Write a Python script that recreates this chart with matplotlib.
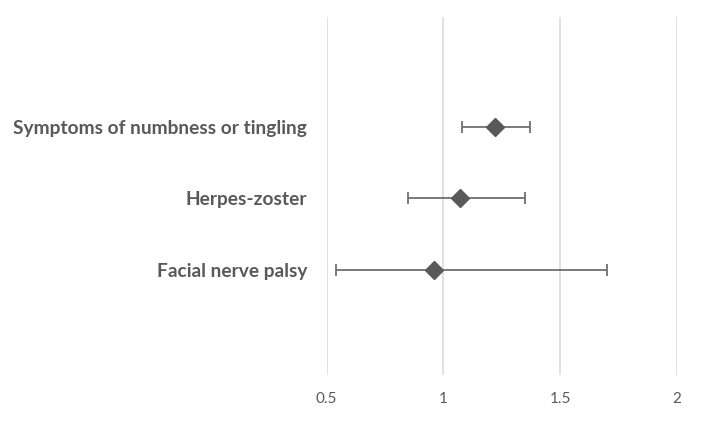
import matplotlib.pyplot as plt

# Data
labels = ["Symptoms of numbness or tingling", "Herpes-zoster", "Facial nerve palsy"]
estimate = [1.22, 1.07, 0.96]
lower = [1.08, 0.85, 0.54]
upper = [1.37, 1.35, 1.70]
ypos = [3, 2, 1]
xticks = [0.5, 1, 1.5, 2]
xticklabels = ["0.5", "1", "1.5", "2"]

grey = "#595959"

fig = plt.figure(figsize=(7.03, 4.21), dpi=100)
ax = fig.add_axes([0.4647, 0.1093, 0.4983, 0.8504])

err_lo = [e - l for e, l in zip(estimate, lower)]
err_hi = [u - e for e, u in zip(estimate, upper)]
ax.errorbar(estimate, ypos, xerr=[err_lo, err_hi], fmt="D", color=grey,
            ecolor="#707070", elinewidth=1.3, capsize=4, capthick=1.3,
            markersize=9, zorder=3)

ax.set_xlim(0.5, 2)
ax.set_ylim(-0.47, 4.54)
ax.set_xticks(xticks)
ax.set_xticklabels(xticklabels, fontfamily="Lato", fontsize=11, color=grey)
ax.set_yticks(ypos)
ax.set_yticklabels(labels, fontfamily="Lato", fontsize=13.8, fontweight="bold", color=grey)
ax.tick_params(axis="both", length=0)
ax.tick_params(axis="x", pad=12)
ax.tick_params(axis="y", pad=14)
ax.grid(axis="x", color="#d9d9d9", linewidth=1.1)
ax.set_axisbelow(True)
for s in ax.spines.values():
    s.set_visible(False)

plt.savefig("out.png", dpi=100)
